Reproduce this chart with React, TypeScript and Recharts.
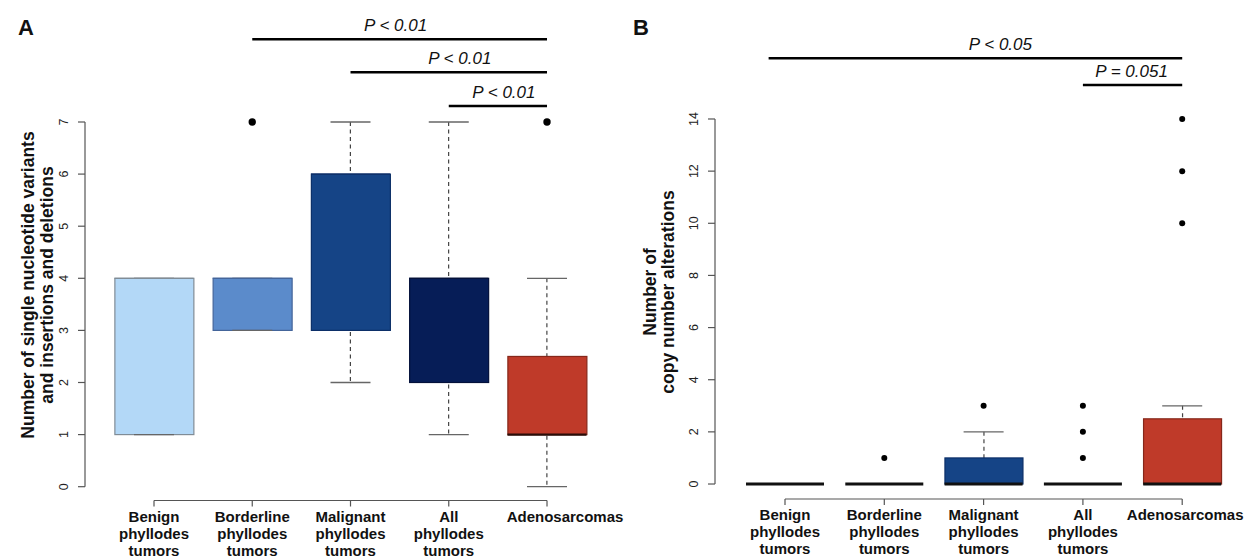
import React from 'react';
import { ComposedChart, Bar, Scatter, XAxis, YAxis, ReferenceLine } from 'recharts';

const FONT = '"Liberation Sans", Arial, Helvetica, sans-serif';

// ---------- shared categories ----------
const CATEGORY_LINES: string[][] = [
  ['Benign', 'phyllodes', 'tumors'],
  ['Borderline', 'phyllodes', 'tumors'],
  ['Malignant', 'phyllodes', 'tumors'],
  ['All', 'phyllodes', 'tumors'],
  ['Adenosarcomas'],
];
const CATEGORY_POS = [1, 2, 3, 4, 5];

// ---------- Panel A: SNVs and indels ----------
const A_TICKS = [0, 1, 2, 3, 4, 5, 6, 7];
const A_MIN = [1, 3, 2, 1, 0];
const A_Q1 = [1, 3, 3, 2, 1];
const A_MED = [4, 4, 6, 4, 1];
const A_Q3 = [4, 4, 6, 4, 2.5];
const A_MAX = [4, 4, 7, 7, 4];
const A_OUT: number[][] = [[], [7], [], [], [7]];
const A_PVALS = [
  { from: 2, to: 5, level: 8.587, text: 'P < 0.01' },
  { from: 3, to: 5, level: 7.957, text: 'P < 0.01' },
  { from: 4, to: 5, level: 7.307, text: 'P < 0.01' },
];

// ---------- Panel B: copy number alterations ----------
const B_TICKS = [0, 2, 4, 6, 8, 10, 12, 14];
const B_MIN = [0, 0, 0, 0, 0];
const B_Q1 = [0, 0, 0, 0, 0];
const B_MED = [0, 0, 0, 0, 0];
const B_Q3 = [0, 0, 1, 0, 2.5];
const B_MAX = [0, 0, 2, 0, 3];
const B_OUT: number[][] = [[], [1], [3], [1, 2, 3], [10, 12, 14]];
const B_PVALS = [
  { from: 0.835, to: 5, level: 16.33, text: 'P < 0.05' },
  { from: 4, to: 5, level: 15.3, text: 'P = 0.051' },
];

// ---------- styles ----------
const FILLS = ['#b3d8f7', '#5b8bcb', '#154486', '#061d57', '#bf3a29'];
const BORDERS = ['#808c96', '#44659a', '#0c2f68', '#04113a', '#86271a'];
const A_MED_COLORS = ['#808c96', '#44659a', '#0c2f68', '#04113a', '#2a0d08'];
const A_MED_WIDTHS = [1.2, 1.2, 1.2, 1.2, 2.4];
const B_MED_COLORS = ['#111', '#111', '#111', '#111', '#111'];
const B_MED_WIDTHS = [3, 3, 3, 3, 3];
const A_PVAL_DX = [-4, 11, 6];
const B_PVAL_DX = [25, -1];
const A_LABEL_DX = [0, 0, 0, 0, 18];
const B_LABEL_DX = [0, 0, 0, 0, 3];

const buildBoxes = (mn: number[], q1: number[], q3: number[], mx: number[]) =>
  CATEGORY_POS.map((x, i) => ({ x, box: [q1[i], q3[i]], whisk: [mn[i], mx[i]] }));
const buildCaps = (mn: number[], mx: number[]) =>
  CATEGORY_POS.flatMap((x, i) => [{ x, y: mn[i] }, { x, y: mx[i] }]);
const buildMeds = (md: number[]) => CATEGORY_POS.map((x, i) => ({ x, y: md[i], i }));
const buildOuts = (o: number[][]) => CATEGORY_POS.flatMap((x, i) => o[i].map((y) => ({ x, y })));

const YTick = (props: any) => {
  const { x, y, payload } = props;
  return (
    <text
      x={x}
      y={y}
      transform={`rotate(-90 ${x} ${y})`}
      textAnchor="middle"
      fontSize={12.5}
      fill="#222"
      fontFamily={FONT}
    >
      {payload.value}
    </text>
  );
};

const makeXTick = (labelDx: number[]) => (props: any) => {
  const { x, y, payload } = props;
  const idx = CATEGORY_POS.indexOf(payload.value);
  const lines = CATEGORY_LINES[idx] || [];
  const dx = labelDx[idx] || 0;
  return (
    <g>
      {lines.map((l, k) => (
        <text
          key={k}
          x={x + dx}
          y={y + 15 + k * 17}
          textAnchor="middle"
          fontSize={15}
          fontWeight="bold"
          fill="#111"
          fontFamily={FONT}
        >
          {l}
        </text>
      ))}
    </g>
  );
};

type PanelProps = {
  width: number;
  height: number;
  margin: { top: number; right: number; bottom: number; left: number };
  yAxisWidth: number;
  xAxisHeight: number;
  xDomain: [number, number];
  yDomain: [number, number];
  yTicks: number[];
  mn: number[];
  q1: number[];
  md: number[];
  q3: number[];
  mx: number[];
  out: number[][];
  pvals: { from: number; to: number; level: number; text: string }[];
  pvalDx: number[];
  labelDx: number[];
  medColors: string[];
  medWidths: number[];
  boxWidth: number;
  dotR: number;
};

function BoxPanel(p: PanelProps) {
  const data = buildBoxes(p.mn, p.q1, p.q3, p.mx);
  const caps = buildCaps(p.mn, p.mx);
  const meds = buildMeds(p.md);
  const outs = buildOuts(p.out);
  const bw = p.boxWidth;
  const XTick = makeXTick(p.labelDx);

  const boxShape = (s: any) => (
    <rect
      x={s.x}
      y={s.y}
      width={s.width}
      height={Math.max(0, s.height)}
      fill={FILLS[s.index]}
      stroke={BORDERS[s.index]}
      strokeWidth={1.2}
    />
  );
  const stemShape = (s: any) => (
    <line
      x1={s.x + s.width / 2}
      x2={s.x + s.width / 2}
      y1={s.y}
      y2={s.y + Math.max(0, s.height)}
      stroke="#444"
      strokeWidth={1.2}
      strokeDasharray="4 3.5"
    />
  );
  const capShape = (s: any) => (
    <line x1={s.cx - 20} x2={s.cx + 20} y1={s.cy} y2={s.cy} stroke="#666" strokeWidth={1.3} />
  );
  const medShape = (s: any) => {
    const i = s.payload ? s.payload.i : 0;
    return (
      <line
        x1={s.cx - bw / 2}
        x2={s.cx + bw / 2}
        y1={s.cy}
        y2={s.cy}
        stroke={p.medColors[i]}
        strokeWidth={p.medWidths[i]}
      />
    );
  };
  const dotShape = (s: any) => <circle cx={s.cx} cy={s.cy} r={p.dotR} fill="#000" />;

  const pLabel = (text: string, dx: number) => (props: any) => {
    const vb = props.viewBox || {};
    let cx: number;
    let cy: number;
    if (vb.x1 !== undefined) {
      cx = (vb.x1 + vb.x2) / 2;
      cy = Math.min(vb.y1, vb.y2);
    } else {
      cx = vb.x + (vb.width || 0) / 2;
      cy = vb.y;
    }
    return (
      <text
        x={cx + dx}
        y={cy - 8}
        textAnchor="middle"
        fontSize={17}
        fontStyle="italic"
        fill="#111"
        fontFamily={FONT}
      >
        {text}
      </text>
    );
  };

  return (
    <ComposedChart width={p.width} height={p.height} data={data} margin={p.margin}>
      <XAxis
        xAxisId={0}
        type="number"
        dataKey="x"
        domain={p.xDomain}
        allowDataOverflow
        ticks={CATEGORY_POS}
        interval={0}
        axisLine={false}
        tickLine={{ stroke: '#555', strokeWidth: 1.2 }}
        tickSize={6}
        tickMargin={0}
        height={p.xAxisHeight}
        tick={<XTick />}
      />
      <XAxis xAxisId="w" type="number" dataKey="x" domain={p.xDomain} allowDataOverflow hide />
      <YAxis
        type="number"
        dataKey="y"
        domain={p.yDomain}
        allowDataOverflow
        ticks={p.yTicks}
        interval={0}
        axisLine={false}
        tickLine={{ stroke: '#555', strokeWidth: 1.2 }}
        tickSize={7}
        tickMargin={10}
        width={p.yAxisWidth}
        tick={<YTick />}
      />
      <ReferenceLine
        segment={[
          { x: p.xDomain[0], y: p.yTicks[0] },
          { x: p.xDomain[0], y: p.yTicks[p.yTicks.length - 1] },
        ]}
        stroke="#555"
        strokeWidth={1.2}
        ifOverflow="visible"
      />
      <ReferenceLine
        segment={[
          { x: CATEGORY_POS[0], y: p.yDomain[0] },
          { x: CATEGORY_POS[CATEGORY_POS.length - 1], y: p.yDomain[0] },
        ]}
        stroke="#555"
        strokeWidth={1.2}
        ifOverflow="visible"
      />
      <Bar xAxisId="w" dataKey="whisk" barSize={40} shape={stemShape} isAnimationActive={false} />
      <Scatter data={caps} shape={capShape} isAnimationActive={false} />
      <Bar xAxisId={0} dataKey="box" barSize={bw} shape={boxShape} isAnimationActive={false} />
      <Scatter data={meds} shape={medShape} isAnimationActive={false} />
      <Scatter data={outs} shape={dotShape} isAnimationActive={false} />
      {p.pvals.map((pv, k) => (
        <ReferenceLine
          key={k}
          segment={[
            { x: pv.from, y: pv.level },
            { x: pv.to, y: pv.level },
          ]}
          stroke="#000"
          strokeWidth={2.5}
          ifOverflow="visible"
          label={{ content: pLabel(pv.text, p.pvalDx[k]) } as any}
        />
      ))}
    </ComposedChart>
  );
}

export default function App() {
  const titleStyle = { fontFamily: FONT, fontSize: 17.5, fontWeight: 'bold' as const, fill: '#111' };
  return (
    <div style={{ position: 'absolute', left: 0, top: 0, width: 1253, height: 557, background: '#fff', overflow: 'hidden' }}>
      <div style={{ position: 'absolute', left: 0, top: 0 }}>
        <BoxPanel
          width={625}
          height={557}
          margin={{ top: 17.8, right: 10, bottom: 0, left: 0 }}
          yAxisWidth={85}
          xAxisHeight={56.5}
          xDomain={[0.2977, 5.692]}
          yDomain={[-0.265, 9]}
          yTicks={A_TICKS}
          mn={A_MIN}
          q1={A_Q1}
          md={A_MED}
          q3={A_Q3}
          mx={A_MAX}
          out={A_OUT}
          pvals={A_PVALS}
          pvalDx={A_PVAL_DX}
          labelDx={A_LABEL_DX}
          medColors={A_MED_COLORS}
          medWidths={A_MED_WIDTHS}
          boxWidth={79}
          dotR={3.7}
        />
      </div>
      <div style={{ position: 'absolute', left: 625, top: 0 }}>
        <BoxPanel
          width={628}
          height={557}
          margin={{ top: 14.7, right: 10, bottom: 0, left: 0 }}
          yAxisWidth={90}
          xAxisHeight={58}
          xDomain={[0.2951, 5.6122]}
          yDomain={[-0.575, 18]}
          yTicks={B_TICKS}
          mn={B_MIN}
          q1={B_Q1}
          md={B_MED}
          q3={B_Q3}
          mx={B_MAX}
          out={B_OUT}
          pvals={B_PVALS}
          pvalDx={B_PVAL_DX}
          labelDx={B_LABEL_DX}
          medColors={B_MED_COLORS}
          medWidths={B_MED_WIDTHS}
          boxWidth={78}
          dotR={3}
        />
      </div>
      <svg
        width={1253}
        height={557}
        style={{ position: 'absolute', left: 0, top: 0, pointerEvents: 'none' }}
      >
        <text x={18} y={35} fontFamily={FONT} fontSize={22} fontWeight="bold" fill="#111">A</text>
        <text x={633} y={35} fontFamily={FONT} fontSize={22} fontWeight="bold" fill="#111">B</text>
        <text x={34} y={285} transform="rotate(-90 34 285)" textAnchor="middle" {...titleStyle}>
          Number of single nucleotide variants
        </text>
        <text x={52.5} y={285} transform="rotate(-90 52.5 285)" textAnchor="middle" {...titleStyle}>
          and insertions and deletions
        </text>
        <text x={656} y={292} transform="rotate(-90 656 292)" textAnchor="middle" {...titleStyle}>
          Number of
        </text>
        <text x={674} y={292} transform="rotate(-90 674 292)" textAnchor="middle" {...titleStyle}>
          copy number alterations
        </text>
      </svg>
    </div>
  );
}
